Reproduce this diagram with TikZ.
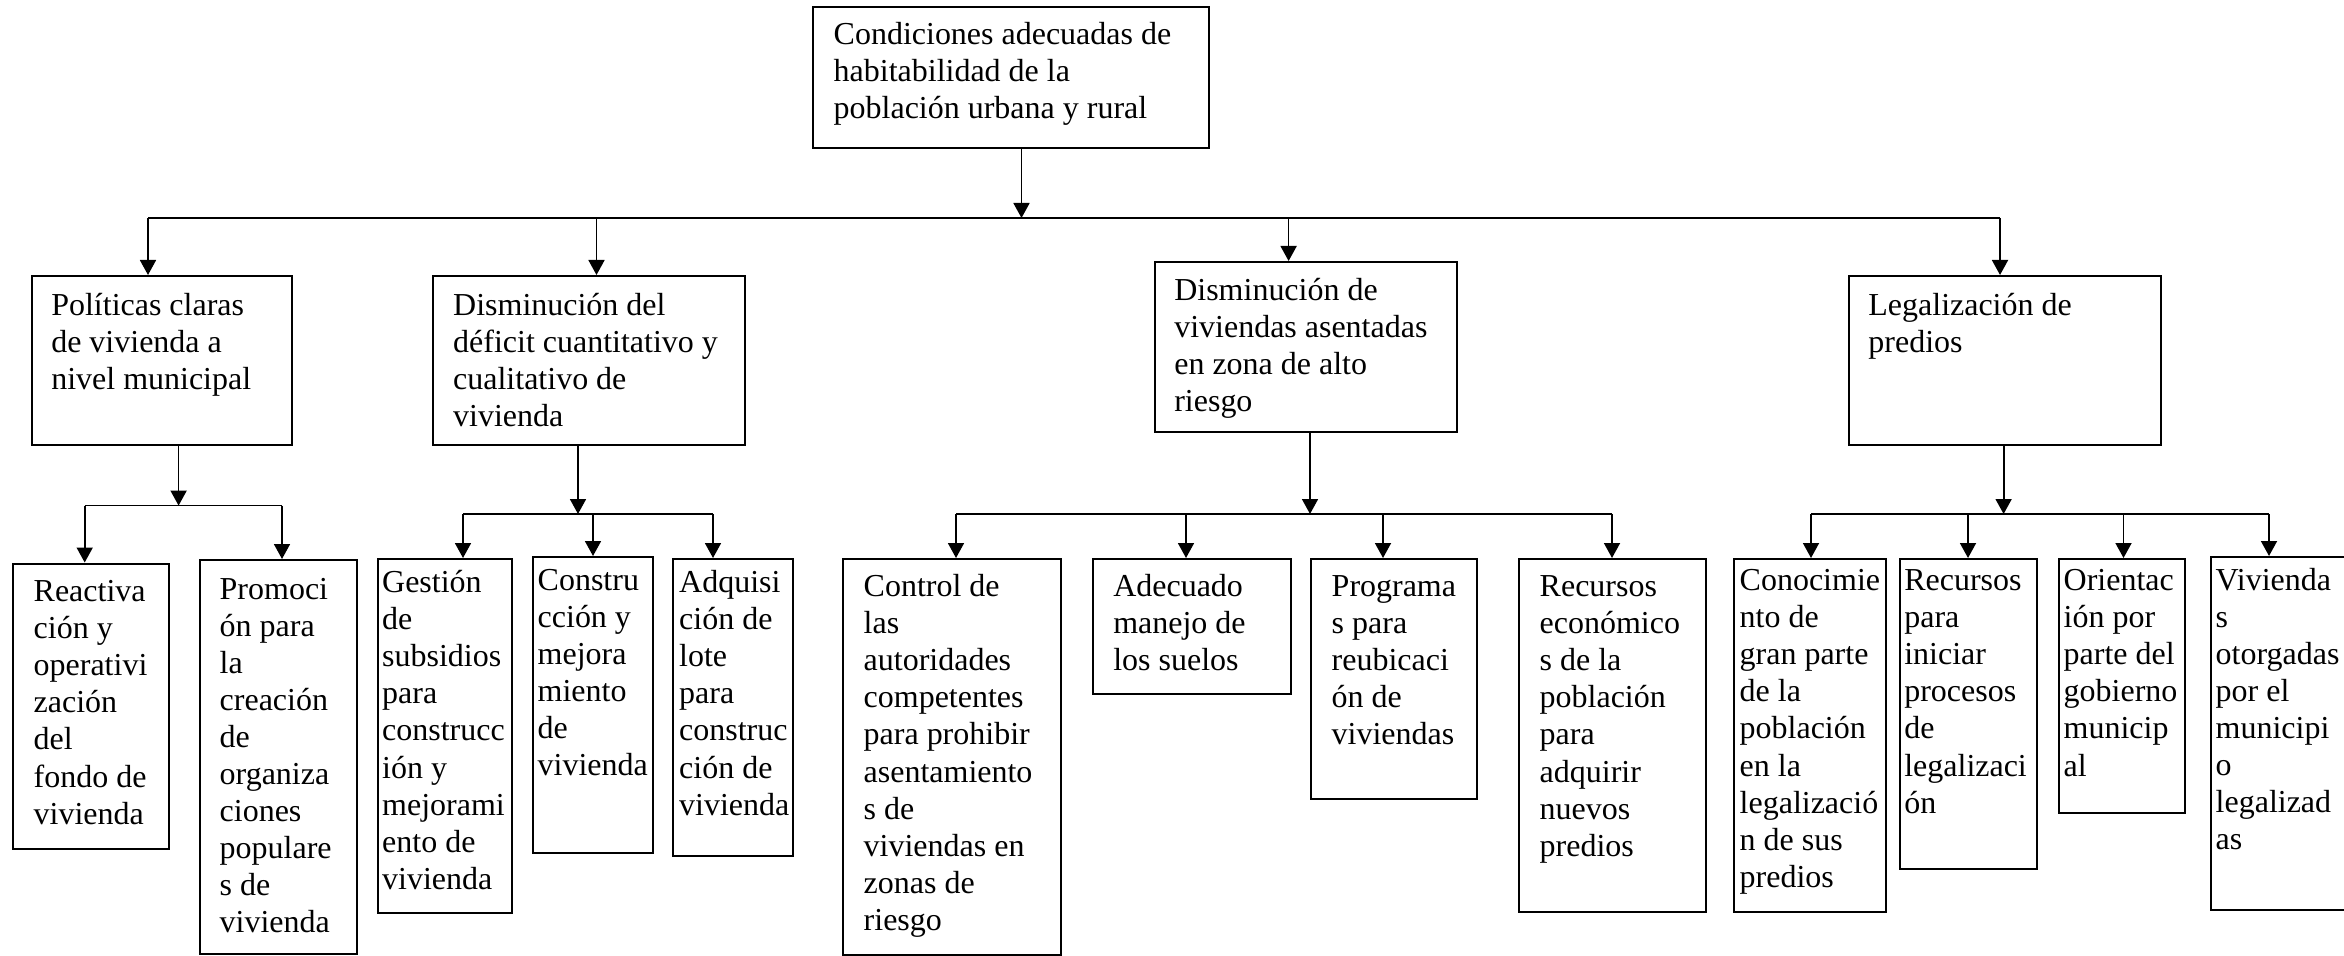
\documentclass[tikz,border=0pt]{standalone}
\usepackage{fontspec}
\setmainfont{Liberation Serif}
\usepackage{tikz}
\usetikzlibrary{arrows.meta, calc}

\begin{document}
\begin{tikzpicture}[
  caja/.style={draw, line width=0.6pt, anchor=north west, inner sep=0pt},
  texto/.style={anchor=north west, inner sep=0pt, align=left,
    font=\fontsize{9.1}{10.55}\selectfont},
  flecha/.style={line width=0.5pt, -{Triangle[length=0.15cm, width=0.16cm]}},
  linea/.style={line width=0.5pt}
]

\useasboundingbox (0,0) rectangle (23.44, 9.55);
\clip (0,0) rectangle (23.44, 9.55);

% ============================================================
% Top: the goal
\node[caja, minimum width=3.96cm, minimum height=1.41cm] (raiz) at (8.12, 9.49) {};
\node[texto] (raiz-t) at ($(raiz.north west)+(0.21,-0.115)$)
  {\strut Condiciones adecuadas de\\habitabilidad de la\\población urbana y rural};

% ============================================================
% Row 1: the four components
\node[caja, minimum width=2.60cm, minimum height=1.69cm] (pol) at (0.306, 6.80) {};
\node[texto] (pol-t) at ($(pol.north west)+(0.20,-0.14)$)
  {\strut Políticas claras\\de vivienda a\\nivel municipal};

\node[caja, minimum width=3.115cm, minimum height=1.69cm] (def) at (4.32, 6.80) {};
\node[texto] (def-t) at ($(def.north west)+(0.205,-0.14)$)
  {\strut Disminución del\\déficit cuantitativo y\\cualitativo de\\vivienda};

\node[caja, minimum width=3.02cm, minimum height=1.70cm] (zona) at (11.536, 6.94) {};
\node[texto] (zona-t) at ($(zona.north west)+(0.20,-0.125)$)
  {\strut Disminución de\\viviendas asentadas\\en zona de alto\\riesgo};

\node[caja, minimum width=3.12cm, minimum height=1.69cm] (leg) at (18.477, 6.80) {};
\node[texto] (leg-t) at ($(leg.north west)+(0.20,-0.14)$)
  {\strut Legalización de\\predios};

% Links from the goal to row 1
\coordinate (j-raiz) at (10.215, 7.37);
\coordinate (j-pol) at (1.48, 7.37);
\coordinate (j-def) at (5.965, 7.37);
\coordinate (j-zona) at (12.886, 7.37);
\coordinate (j-leg) at (20.00, 7.37);
\draw[flecha] (j-raiz |- raiz.south) -- (j-raiz);
\draw[linea] (j-pol) -- (j-leg);
\draw[flecha] (j-pol) -- (j-pol |- pol.north);
\draw[flecha] (j-def) -- (j-def |- def.north);
\draw[flecha] (j-zona) -- (j-zona |- zona.north);
\draw[flecha] (j-leg) -- (j-leg |- leg.north);

% ============================================================
% Row 2 under "Politicas claras"
\node[caja, minimum width=1.56cm, minimum height=2.855cm] (reac) at (0.12, 3.925) {};
\node[texto] (reac-t) at ($(reac.north west)+(0.21,-0.125)$)
  {\strut Reactiva\\ción y\\operativi\\zación\\del\\fondo de\\vivienda};

\node[caja, minimum width=1.57cm, minimum height=3.94cm] (prom) at (1.99, 3.96) {};
\node[texto] (prom-t) at ($(prom.north west)+(0.20,-0.135)$)
  {\strut Promoci\\ón para\\la\\creación\\de\\organiza\\ciones\\populare\\s de\\vivienda};

\coordinate (j-pol-s) at (1.786, 4.494);
\coordinate (j-reac) at (0.847, 4.494);
\coordinate (j-prom) at (2.82, 4.494);
\draw[flecha] (j-pol-s |- pol.south) -- (j-pol-s);
\draw[linea] (j-reac) -- (j-prom);
\draw[flecha] (j-reac) -- (j-reac |- reac.north);
\draw[flecha] (j-prom) -- (j-prom |- prom.north);

% ============================================================
% Row 2 under "Disminucion del deficit"
\node[caja, minimum width=1.345cm, minimum height=3.54cm] (gest) at (3.765, 3.97) {};
\node[texto] (gest-t) at ($(gest.north west)+(0.05,-0.08)$)
  {\strut Gestión\\de\\subsidios\\para\\construcc\\ión y\\mejorami\\ento de\\vivienda};

\node[caja, minimum width=1.20cm, minimum height=2.96cm] (cons) at (5.32, 3.99) {};
\node[texto] (cons-t) at ($(cons.north west)+(0.05,-0.075)$)
  {\strut Constru\\cción y\\mejora\\miento\\de\\vivienda};

\node[caja, minimum width=1.20cm, minimum height=2.97cm] (adq) at (6.72, 3.97) {};
\node[texto] (adq-t) at ($(adq.north west)+(0.065,-0.08)$)
  {\strut Adquisi\\ción de\\lote\\para\\construc\\ción de\\vivienda};

\coordinate (j-def-s) at (5.78, 4.41);
\coordinate (j-gest) at (4.63, 4.41);
\coordinate (j-cons) at (5.93, 4.41);
\coordinate (j-adq) at (7.13, 4.41);
\draw[flecha] (j-def-s |- def.south) -- (j-def-s);
\draw[linea] (j-gest) -- (j-adq);
\draw[flecha] (j-gest) -- (j-gest |- gest.north);
\draw[flecha] (j-cons) -- (j-cons |- cons.north);
\draw[flecha] (j-adq) -- (j-adq |- adq.north);

% ============================================================
% Row 2 under "zona de alto riesgo"
\node[caja, minimum width=2.18cm, minimum height=3.955cm] (ctrl) at (8.42, 3.97) {};
\node[texto] (ctrl-t) at ($(ctrl.north west)+(0.21,-0.12)$)
  {\strut Control de\\las\\autoridades\\competentes\\para prohibir\\asentamiento\\s de\\viviendas en\\zonas de\\riesgo};

\node[caja, minimum width=1.98cm, minimum height=1.35cm] (adec) at (10.916, 3.97) {};
\node[texto] (adec-t) at ($(adec.north west)+(0.21,-0.12)$)
  {\strut Adecuado\\manejo de\\los suelos};

\node[caja, minimum width=1.66cm, minimum height=2.40cm] (prog) at (13.10, 3.97) {};
\node[texto] (prog-t) at ($(prog.north west)+(0.21,-0.12)$)
  {\strut Programa\\s para\\reubicaci\\ón de\\viviendas};

\node[caja, minimum width=1.87cm, minimum height=3.53cm] (recur) at (15.18, 3.97) {};
\node[texto] (recur-t) at ($(recur.north west)+(0.21,-0.12)$)
  {\strut Recursos\\económico\\s de la\\población\\para\\adquirir\\nuevos\\predios};

\coordinate (j-zona-s) at (13.10, 4.41);
\coordinate (j-ctrl) at (9.56, 4.41);
\coordinate (j-adec) at (11.86, 4.41);
\coordinate (j-prog) at (13.83, 4.41);
\coordinate (j-recur) at (16.12, 4.41);
\draw[flecha] (j-zona-s |- zona.south) -- (j-zona-s);
\draw[linea] (j-ctrl) -- (j-recur);
\draw[flecha] (j-ctrl) -- (j-ctrl |- ctrl.north);
\draw[flecha] (j-adec) -- (j-adec |- adec.north);
\draw[flecha] (j-prog) -- (j-prog |- prog.north);
\draw[flecha] (j-recur) -- (j-recur |- recur.north);

% ============================================================
% Row 2 under "Legalizacion de predios"
\node[caja, minimum width=1.515cm, minimum height=3.53cm] (cono) at (17.33, 3.97) {};
\node[texto] (cono-t) at ($(cono.north west)+(0.06,-0.06)$)
  {\strut Conocimie\\nto de\\gran parte\\de la\\población\\en la\\legalizació\\n de sus\\predios};

\node[caja, minimum width=1.37cm, minimum height=3.10cm] (rlegal) at (18.99, 3.97) {};
\node[texto] (rlegal-t) at ($(rlegal.north west)+(0.046,-0.06)$)
  {\strut Recursos\\para\\iniciar\\procesos\\de\\legalizaci\\ón};

\node[caja, minimum width=1.26cm, minimum height=2.535cm] (orie) at (20.58, 3.97) {};
\node[texto] (orie-t) at ($(orie.north west)+(0.05,-0.06)$)
  {\strut Orientac\\ión por\\parte del\\gobierno\\municip\\al};

\node[caja, minimum width=1.45cm, minimum height=3.53cm] (viv) at (22.10, 3.99) {};
\node[texto] (viv-t) at ($(viv.north west)+(0.05,-0.075)$)
  {\strut Vivienda\\s\\otorgadas\\por el\\municipi\\o\\legalizad\\as};

\coordinate (j-leg-s) at (20.036, 4.41);
\coordinate (j-cono) at (18.11, 4.41);
\coordinate (j-rlegal) at (19.68, 4.41);
\coordinate (j-orie) at (21.235, 4.41);
\coordinate (j-viv) at (22.69, 4.41);
\draw[flecha] (j-leg-s |- leg.south) -- (j-leg-s);
\draw[linea] (j-cono) -- (j-viv);
\draw[flecha] (j-cono) -- (j-cono |- cono.north);
\draw[flecha] (j-rlegal) -- (j-rlegal |- rlegal.north);
\draw[flecha] (j-orie) -- (j-orie |- orie.north);
\draw[flecha] (j-viv) -- (j-viv |- viv.north);

\end{tikzpicture}
\end{document}
